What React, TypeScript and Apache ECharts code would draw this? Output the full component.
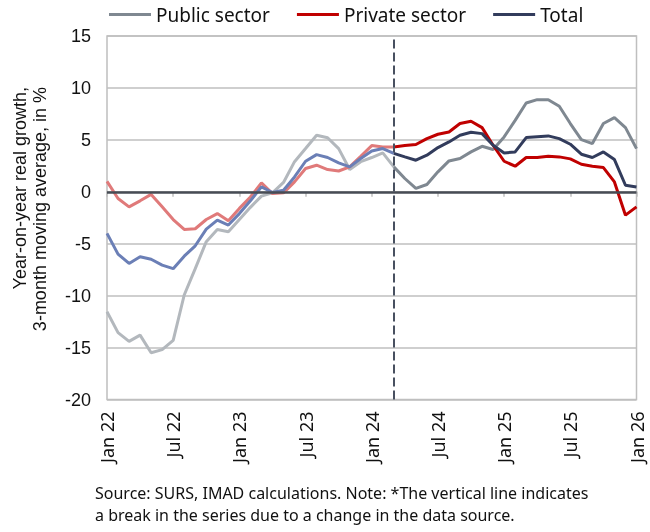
import React, { useEffect, useRef } from "react";
import * as echarts from "echarts";

const months = [
  "Jan 22","Feb 22","Mar 22","Apr 22","May 22","Jun 22","Jul 22","Aug 22","Sep 22","Oct 22","Nov 22","Dec 22",
  "Jan 23","Feb 23","Mar 23","Apr 23","May 23","Jun 23","Jul 23","Aug 23","Sep 23","Oct 23","Nov 23","Dec 23",
  "Jan 24","Feb 24","Mar 24","Apr 24","May 24","Jun 24","Jul 24","Aug 24","Sep 24","Oct 24","Nov 24","Dec 24",
  "Jan 25","Feb 25","Mar 25","Apr 25","May 25","Jun 25","Jul 25","Aug 25","Sep 25","Oct 25","Nov 25","Dec 25",
  "Jan 26",
];

const publicSector = [
  -11.55, -13.56, -14.4, -13.8, -15.5, -15.2, -14.3, -9.94, -7.4, -4.8, -3.63, -3.85,
  -2.67, -1.5, -0.42, -0.1, 0.9, 2.9, 4.16, 5.44, 5.2, 4.16, 2.14, 2.9,
  3.3, 3.74, 2.4, 1.28, 0.32, 0.7, 1.92, 2.97, 3.2, 3.84, 4.38, 4.07,
  5.28, 6.88, 8.55, 8.87, 8.87, 8.23, 6.57, 5.03, 4.64, 6.57, 7.14, 6.18,
  4.16,
];

const privateSector = [
  1.0, -0.65, -1.45, -0.87, -0.25, -1.45, -2.67, -3.63, -3.56, -2.67, -2.1, -2.8,
  -1.6, -0.5, 0.86, -0.17, -0.1, 0.95, 2.24, 2.56, 2.14, 2.0, 2.4, 3.42,
  4.45, 4.32, 4.32, 4.45, 4.55, 5.12, 5.54, 5.76, 6.57, 6.79, 6.18, 4.48,
  2.94, 2.46, 3.3, 3.3, 3.42, 3.36, 3.17, 2.65, 2.46, 2.33, 0.95, -2.25,
  -1.45,
];

const total = [
  -4.0, -6.0, -6.9, -6.26, -6.5, -7.06, -7.4, -6.2, -5.2, -3.6, -2.73, -3.2,
  -2.1, -0.87, 0.47, -0.07, 0.15, 1.43, 2.94, 3.58, 3.3, 2.78, 2.4, 3.2,
  3.93, 4.16, 3.7, 3.36, 3.04, 3.52, 4.26, 4.8, 5.44, 5.73, 5.6, 4.48,
  3.74, 3.84, 5.22, 5.3, 5.38, 5.12, 4.58, 3.62, 3.3, 3.84, 3.1, 0.63,
  0.47,
];

const seriesNames = ["Public sector", "Private sector", "Total"];
const breakIndex = 26;
const yTicks = { min: -20, max: 15, interval: 5 };
const yTitle = ["Year-on-year real growth,", "3-month moving average, in %"];
const sourceLines = [
  "Source: SURS, IMAD calculations. Note: *The vertical line indicates",
  "a break in the series due to a change in the data source.",
];

const darkColors = ["#7f8891", "#c00000", "#323c5c"];
const lightColors = ["#b3b8bd", "#e07a7a", "#6b7fb6"];

function pre(arr: number[]) {
  return arr.map((v, i) => (i <= breakIndex ? v : null));
}
function post(arr: number[]) {
  return arr.map((v, i) => (i >= breakIndex ? v : null));
}

export default function App() {
  const ref = useRef<HTMLDivElement>(null);
  useEffect(() => {
    if (!ref.current) return;
    const chart = echarts.init(ref.current, undefined, { renderer: "svg" });
    const all = [publicSector, privateSector, total];
    const series: any[] = [];
    all.forEach((arr, k) => {
      series.push({
        name: seriesNames[k] + " (old)",
        type: "line",
        data: pre(arr),
        showSymbol: false,
        symbol: "none",
        lineStyle: { color: lightColors[k], width: 3 },
        itemStyle: { color: lightColors[k] },
        z: 3,
        ...(k === 0
          ? {
              markLine: {
                silent: true,
                symbol: "none",
                label: { show: false },
                data: [
                  {
                    yAxis: 0,
                    lineStyle: { color: "#474c55", width: 2.5, type: "solid" },
                  },
                ],
              },
            }
          : {}),
      });
    });
    all.forEach((arr, k) => {
      series.push({
        name: seriesNames[k],
        type: "line",
        data: post(arr),
        showSymbol: false,
        symbol: "none",
        lineStyle: { color: darkColors[k], width: 3 },
        itemStyle: { color: darkColors[k] },
        z: 4,
        ...(k === 0
          ? {
              markLine: {
                silent: true,
                symbol: "none",
                label: { show: false },
                z: 10,
                data: [
                  {
                    xAxis: breakIndex,
                    lineStyle: { color: "#485060", width: 2, type: [9, 4] },
                  },
                ],
              },
            }
          : {}),
      });
    });

    chart.setOption({
      animation: false,
      grid: {
        left: 107,
        right: 13.5,
        top: 36,
        bottom: 132.5,
        show: true,
        borderColor: "#bfbfbf",
        borderWidth: 1.5,
        backgroundColor: "transparent",
      },
      legend: {
        data: seriesNames,
        left: 109,
        top: 5,
        padding: 0,
        icon: "rect",
        itemWidth: 42,
        itemHeight: 3,
        itemGap: 27,
        textStyle: { fontFamily: "Noto Sans", fontSize: 19, color: "#111" },
      },
      xAxis: {
        type: "category",
        data: months,
        boundaryGap: false,
        axisLine: { lineStyle: { color: "#bfbfbf", width: 1.5 } },
        axisTick: { interval: 5, length: 5, lineStyle: { color: "#bfbfbf", width: 1.5 } },
        axisLabel: {
          interval: 5,
          rotate: 90,
          margin: 12,
          fontFamily: "Noto Sans",
          fontSize: 18,
          color: "#111",
        },
        splitLine: { show: false },
      },
      yAxis: {
        type: "value",
        min: yTicks.min,
        max: yTicks.max,
        interval: yTicks.interval,
        axisLine: { show: false },
        axisTick: { show: false },
        axisLabel: {
          margin: 16,
          fontFamily: "Liberation Sans",
          fontSize: 18,
          color: "#111",
        },
        splitLine: { lineStyle: { color: "#bfbfbf", width: 1.5 } },
      },
      graphic: [
        {
          type: "text",
          x: 20,
          y: 87,
          rotation: Math.PI / 2,
          style: {
            text: yTitle[0],
            fontFamily: "Liberation Sans",
            fontSize: 18,
            fill: "#111",
            align: "right",
            verticalAlign: "middle",
          },
        },
        {
          type: "text",
          x: 40,
          y: 87,
          rotation: Math.PI / 2,
          style: {
            text: yTitle[1],
            fontFamily: "Liberation Sans",
            fontSize: 18,
            fill: "#111",
            align: "right",
            verticalAlign: "middle",
          },
        },
        {
          type: "text",
          left: 95,
          top: 485,
          style: {
            text: sourceLines[0],
            fontFamily: "Noto Sans",
            fontSize: 16,
            fill: "#111",
          },
        },
        {
          type: "text",
          left: 95,
          top: 507,
          style: {
            text: sourceLines[1],
            fontFamily: "Noto Sans",
            fontSize: 16,
            fill: "#111",
          },
        },
      ],
      series,
    });
    return () => chart.dispose();
  }, []);
  return (
    <div
      ref={ref}
      style={{ position: "fixed", left: 0, top: 0, width: 650, height: 532 }}
    />
  );
}
